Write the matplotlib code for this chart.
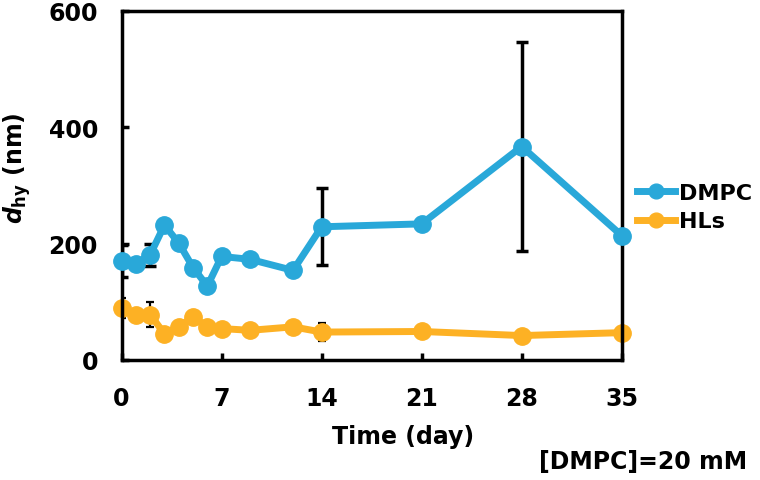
import matplotlib
matplotlib.use("Agg")
import matplotlib.pyplot as plt

plt.rcParams['font.family'] = ['DejaVu Sans']
plt.rcParams['font.weight'] = 'bold'
plt.rcParams['mathtext.fontset'] = 'custom'
plt.rcParams['mathtext.it'] = 'DejaVu Sans:italic:bold'
plt.rcParams['mathtext.rm'] = 'DejaVu Sans:bold'

days = [0, 1, 2, 3, 4, 5, 6, 7, 9, 12, 14, 21, 28, 35]
dmpc = [170, 165, 181, 232, 201, 159, 127, 178, 173, 154, 229, 234, 367, 214]
dmpc_err = [27, 0, 19, 0, 0, 0, 0, 0, 0, 0, 66, 0, 180, 0]
hls = [90, 78, 78, 45, 57, 74, 57, 54, 51, 57, 48, 49, 42, 47]
hls_err = [17, 0, 21, 0, 0, 0, 0, 0, 0, 0, 15, 0, 0, 0]
xticks = [0, 7, 14, 21, 28, 35]
yticks = [0, 200, 400, 600]

blue = '#29A8D9'
orange = '#FDB124'

fig = plt.figure(figsize=(7.6, 4.81), dpi=100)
ax = fig.add_axes([0.16, 0.2495, 0.658, 0.7256])

ax.errorbar(days, dmpc, yerr=dmpc_err, fmt='none', ecolor='black',
            elinewidth=2.5, capsize=4, capthick=2.5, zorder=1)
ax.errorbar(days, hls, yerr=hls_err, fmt='none', ecolor='black',
            elinewidth=1.6, capsize=3, capthick=1.6, zorder=1)
l1, = ax.plot(days, dmpc, color=blue, lw=5, marker='o', ms=12.5, label='DMPC',
              zorder=3, clip_on=False)
l2, = ax.plot(days, hls, color=orange, lw=5, marker='o', ms=12.5, label='HLs',
              zorder=2, clip_on=False)

ax.set_xlim(0, 35)
ax.set_ylim(0, 600)
ax.set_xticks(xticks)
ax.set_yticks(yticks)
ax.tick_params(axis='x', direction='in', length=5, width=2.5, labelsize=17, pad=19)
ax.tick_params(axis='y', direction='in', length=5, width=2.5, labelsize=17, pad=17)
for lab in ax.get_xticklabels() + ax.get_yticklabels():
    lab.set_fontweight('bold')
for s in ax.spines.values():
    s.set_linewidth(2.5)

ax.set_xlabel('Time (day)', fontsize=17, fontweight='bold')
ax.xaxis.set_label_coords(0.563, -0.183)
ax.set_ylabel(r'$\mathit{d}_{\mathrm{hy}}$ (nm)', fontsize=17, fontweight='bold')
ax.yaxis.set_label_coords(-0.177, 0.553)

leg = fig.legend(handles=[l1, l2], labels=['DMPC', 'HLs'],
                 loc='center left', bbox_to_anchor=(637 / 760, 0.5676),
                 frameon=False, fontsize=16, handlelength=1.7, handletextpad=0.2,
                 labelspacing=0.4, borderaxespad=0, borderpad=0, markerscale=0.85)
for t in leg.get_texts():
    t.set_fontweight('bold')

fig.text(643 / 760, (481 - 462) / 481, '[DMPC]=20 mM', fontsize=17,
         fontweight='bold', ha='center', va='center')

fig.savefig('out.png', dpi=100)
